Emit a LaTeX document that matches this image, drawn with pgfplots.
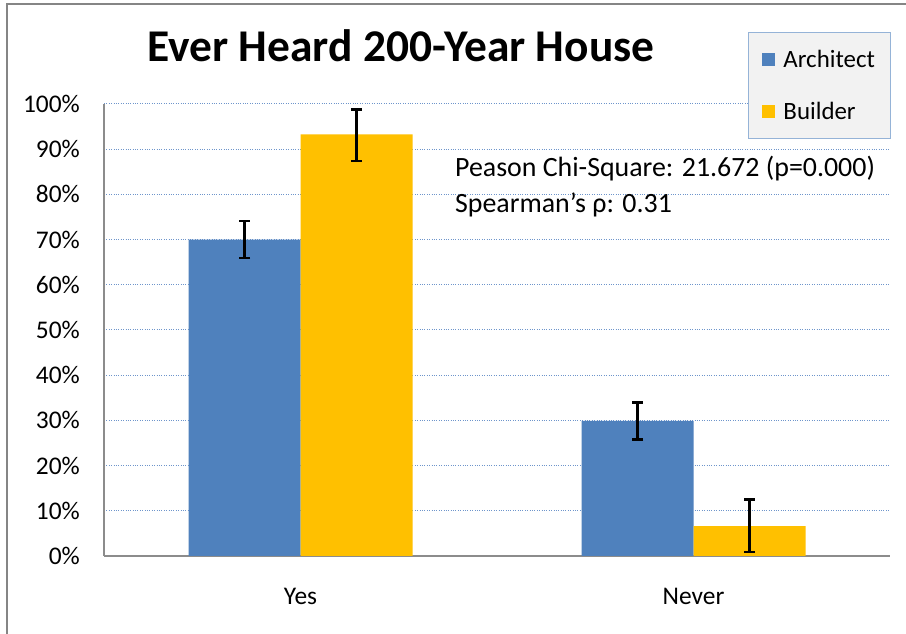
\documentclass[border=0pt]{standalone}
\usepackage{pgfplots}
\pgfplotsset{compat=1.18}
\usepackage{fontspec}
\setmainfont{Carlito}
\definecolor{arch}{HTML}{4F81BD}
\definecolor{build}{HTML}{FFC000}
\definecolor{gridblue}{HTML}{6E95CB}
\definecolor{axgray}{HTML}{8C8C8C}
\definecolor{framegray}{HTML}{858585}
\definecolor{legfill}{HTML}{F2F2F2}
\definecolor{legdraw}{HTML}{95B3D7}
\pgfplotstableread{
x y ep em
0 70.0 4.1 4.1
1 29.9 4.1 4.1
}\archdata
\pgfplotstableread{
x y ep em
0 93.3 5.5 5.9
1 6.6 5.9 5.7
}\builddata
\begin{document}
\begin{tikzpicture}[x=1bp,y=1bp]
\useasboundingbox (0,0) rectangle (906,634);
\fill[white] (0,0) rectangle (906,634);
\draw[framegray, line width=2.5bp] (7,0) -- (7,630) -- (906,630);
\begin{axis}[
  at={(104bp,78bp)}, anchor=south west,
  scale only axis, width=786bp, height=452bp,
  xmin=-0.5, xmax=1.5, ymin=0, ymax=100,
  ybar=0pt, bar width=112bp,
  xtick={0,1}, xticklabels={Yes,Never},
  ytick={0,10,...,100},
  yticklabel={\pgfmathprintnumber{\tick}\%},
  axis x line*=bottom, axis y line*=left,
  axis line style={-, axgray, line width=1.3bp},
  x axis line style={line width=2bp},
  major tick length=0pt,
  ymajorgrids, major grid style={gridblue, dotted, line width=1bp},
  tick label style={font=\fontsize{25.5}{30}\selectfont},
  yticklabel style={anchor=east, inner xsep=0pt, xshift=-24bp},
  xticklabel style={anchor=base, yshift=-49bp},
  /pgf/number format/assume math mode=true,
  clip=false,
  legend style={at={(0.8193,1.1593)}, anchor=north west, draw=legdraw, fill=legfill,
    line width=1bp, font=\fontsize{25}{30}\selectfont, inner xsep=14bp, inner ysep=15.5bp,
    row sep=29bp, legend cell align=left,
    /tikz/every odd column/.append style={column sep=6bp}},
  mylegimg/.style={legend image code/.code={\fill[##1] (0bp,-6.5bp) rectangle (13bp,6.5bp);}},
]
\addplot[fill=arch, draw=none, mylegimg,
  error bars/.cd, y dir=both, y explicit,
  error bar style={black, line width=2.5bp, solid},
  error mark options={black, rotate=90, mark size=5.5bp, line width=2.5bp, solid}]
  table[x=x, y=y, y error plus=ep, y error minus=em] {\archdata};
\addplot[fill=build, draw=none, mylegimg,
  error bars/.cd, y dir=both, y explicit,
  error bar style={black, line width=2.5bp, solid},
  error mark options={black, rotate=90, mark size=5.5bp, line width=2.5bp, solid}]
  table[x=x, y=y, y error plus=ep, y error minus=em] {\builddata};
\legend{Architect,Builder}
\node[anchor=base, font=\bfseries\fontsize{45.6}{50}\selectfont, inner sep=0pt]
  at (axis cs:0.2557,109.3) {Ever Heard 200-Year House};
\node[anchor=base west, font=\fontsize{28}{33}\selectfont, inner sep=0pt]
  at (axis cs:0.393,83.85) {Peason Chi-Square: 21.672 (p=0.000)};
\node[anchor=base west, font=\fontsize{28}{33}\selectfont, inner sep=0pt]
  at (axis cs:0.393,76.1) {Spearman's ρ: 0.31};
\end{axis}
\end{tikzpicture}
\end{document}
